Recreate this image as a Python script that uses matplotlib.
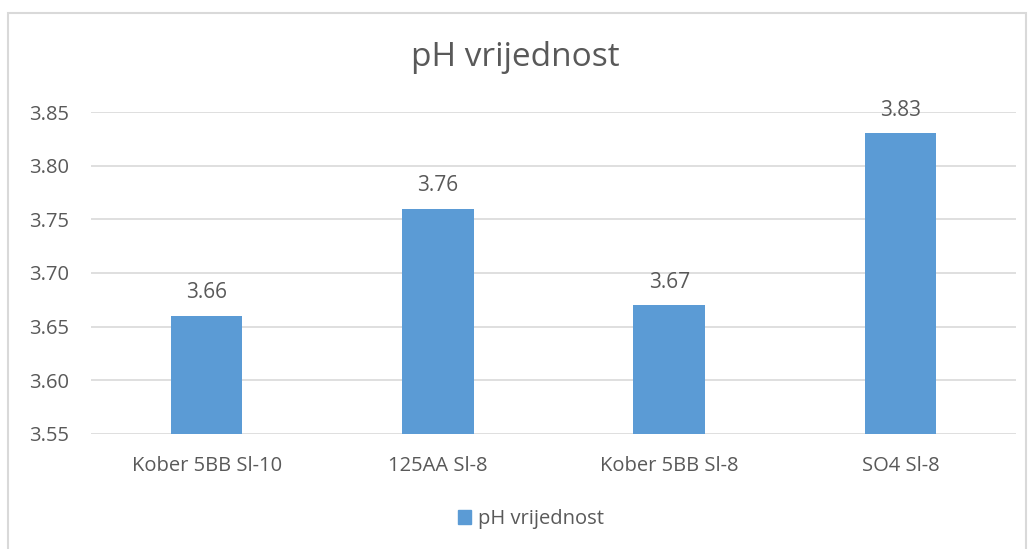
import matplotlib.pyplot as plt
from matplotlib.patches import Rectangle, Patch

categories = ["Kober 5BB Sl-10", "125AA Sl-8", "Kober 5BB Sl-8", "SO4 Sl-8"]
ph_values = [3.66, 3.76, 3.67, 3.83]
y_ticks = [3.55, 3.60, 3.65, 3.70, 3.75, 3.80, 3.85]

text_color = "#595959"
bar_color = "#5B9BD5"
grid_color = "#D9D9D9"
plt.rcParams['font.family'] = ['Open Sans', 'DejaVu Sans']

W, H = 1031, 549
fig = plt.figure(figsize=(W / 100, H / 100), dpi=100)

# chart border
fig.patches.append(Rectangle((8 / W, -0.01), (1026 - 8) / W, 1 - 13 / H + 0.01,
                             transform=fig.transFigure, fill=False,
                             edgecolor=grid_color, linewidth=1.5))

ax = fig.add_axes([91 / W, 1 - 434 / H, (1016 - 91) / W, (434 - 112) / H])
x = range(len(categories))
bars = ax.bar(x, ph_values, width=0.31, color=bar_color, zorder=3)
ax.set_ylim(3.55, 3.85)
ax.set_xlim(-0.5, len(categories) - 0.5)
ax.set_yticks(y_ticks)
ax.set_yticklabels([f"{v:.2f}" for v in y_ticks])
ax.set_xticks(list(x))
ax.set_xticklabels(categories)
ax.tick_params(axis='both', length=0, colors=text_color, labelsize=14.5)
ax.tick_params(axis='x', pad=16)
ax.tick_params(axis='y', pad=16)
ax.grid(axis='y', color=grid_color, linewidth=1.2, zorder=0)
for s in ax.spines.values():
    s.set_visible(False)

for b, v in zip(bars, ph_values):
    ax.annotate(f"{v:.2f}", (b.get_x() + b.get_width() / 2, v),
                xytext=(0, 9), textcoords='offset points',
                ha='center', va='bottom', fontsize=15, color=text_color)

fig.text(0.5, 1 - 58 / H, "pH vrijednost", ha='center', va='center',
         fontsize=24, color=text_color)

fig.legend(handles=[Patch(color=bar_color, label="pH vrijednost")],
           loc='center', bbox_to_anchor=(531 / W, 1 - 519 / H), frameon=False,
           fontsize=14.5, labelcolor=text_color, handlelength=0.65, handleheight=0.65,
           handletextpad=0.35)

fig.savefig("out.png", dpi=100)
